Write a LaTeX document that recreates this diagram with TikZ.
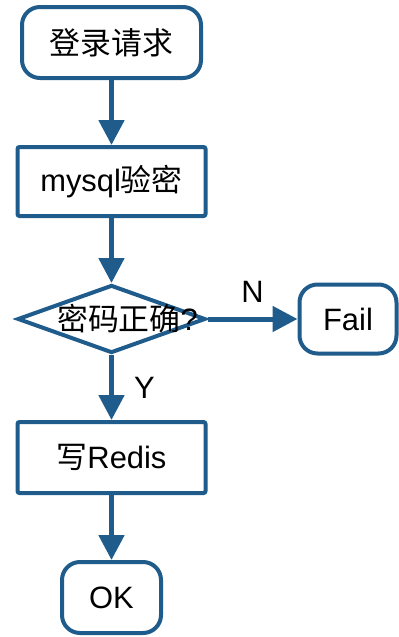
\documentclass[tikz,border=0pt]{standalone}
\usepackage{fontspec}
\setmainfont{Liberation Sans}
\newfontfamily\cjk{Noto Sans CJK SC}
\usetikzlibrary{arrows.meta, positioning, shapes.geometric, shadows}
\definecolor{FlowBlue}{HTML}{1F5C8C}
\tikzset{
  termbox/.style={draw=FlowBlue, line width=4bp, rounded corners=18bp, fill=white, align=center, inner sep=0pt, font=\fontsize{31}{37}\selectfont, drop shadow={shadow xshift=1.5bp, shadow yshift=-1.5bp, opacity=0.2}},
  procbox/.style={draw=FlowBlue, line width=4bp, rounded corners=2bp, fill=white, align=center, inner sep=0pt, font=\fontsize{31}{37}\selectfont, drop shadow={shadow xshift=1.5bp, shadow yshift=-1.5bp, opacity=0.2}},
  decision/.style={diamond, draw=FlowBlue, line width=4bp, fill=white, inner sep=0pt, minimum width=188bp, minimum height=68bp},
  flowarrow/.style={-{Triangle[length=25bp, width=25bp]}, line width=5bp, draw=FlowBlue},
  edgelabel/.style={font=\fontsize{31}{37}\selectfont, inner sep=0pt}
}
\begin{document}
\begin{tikzpicture}[node distance=65bp]
\useasboundingbox (0,0) rectangle (399bp,-637bp);
\node[termbox, minimum width=179bp, minimum height=71bp] (login) at (111.5bp,-42.5bp) {{\cjk 登录请求}};
\node[procbox, below=of login, minimum width=188bp, minimum height=69bp] (mysqlcheck) {mysql{\cjk 验密}};
\node[decision, below=of mysqlcheck] (check) {};
\node[edgelabel, xshift=16bp] (checktext) at (check) {{\cjk 密码正确}?};
\node[termbox, right=90bp of check, minimum width=97bp, minimum height=69bp] (fail) {Fail};
\node[procbox, below=of check, minimum width=188bp, minimum height=71bp] (redis) {{\cjk 写}Redis};
\node[termbox, below=of redis, minimum width=99bp, minimum height=71bp] (ok) {OK};
\draw[flowarrow] (login) -- (mysqlcheck);
\draw[flowarrow] (mysqlcheck) -- (check);
\draw[flowarrow] (check) -- node[edgelabel, above=14bp] (nlabel) {N} (fail);
\draw[flowarrow] (check) -- node[edgelabel, right=20bp] (ylabel) {Y} (redis);
\draw[flowarrow] (redis) -- (ok);
\end{tikzpicture}
\end{document}
